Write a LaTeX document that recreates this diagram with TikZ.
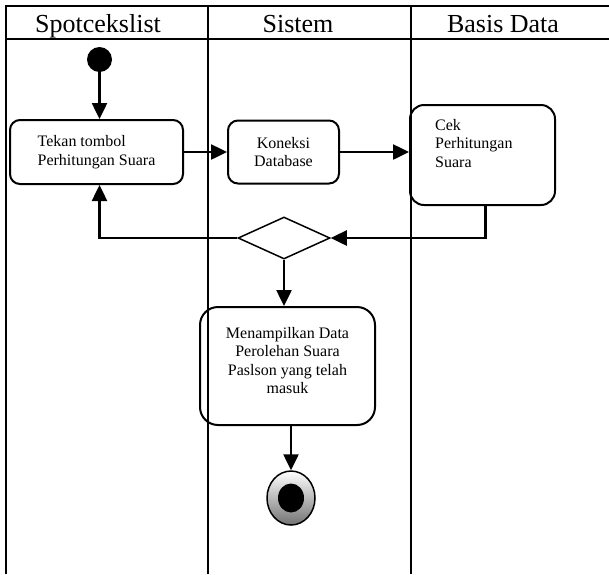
\documentclass[tikz,border=0pt]{standalone}
\usepackage{fontspec}
\setmainfont{Liberation Serif}
\usetikzlibrary{arrows.meta,shapes.geometric}

\tikzset{
  lane/.style={line width=2pt},
  act/.style={draw, line width=2pt, inner sep=0pt, font=\fontsize{16}{18.5}\selectfont},
  acttext/.style={inner sep=0pt, font=\fontsize{16}{18.5}\selectfont},
  flow/.style={line width=2.5pt, -{Triangle[length=16pt,width=15pt]}},
  head/.style={anchor=base, inner sep=0pt, font=\fontsize{26}{30}\selectfont},
}

\begin{document}
\begin{tikzpicture}[x=1pt,y=-1pt]
\useasboundingbox (0,0) rectangle (609,574);

% swimlane frame
\draw[lane] (5,5.5) -- (609,5.5);
\draw[lane] (5,39) -- (609,39);
\draw[lane] (6,5.5) -- (6,574);
\draw[lane] (207.5,5.5) -- (207.5,574);
\draw[lane] (410.5,5.5) -- (410.5,574);

% lane titles
\node[head] (h1) at (98,32) {Spotcekslist};
\node[head] (h2) at (298,32) {Sistem};
\node[head] (h3) at (503,32) {Basis Data};

% initial state
\node[circle, fill=black, minimum size=25pt, inner sep=0pt] (start) at (99.5,59.5) {};

% activities
\node[act, rounded corners=10pt, minimum width=173pt, minimum height=64pt, align=left]
  (tekan) at (96.5,152) {Tekan tombol\\Perhitungan Suara};
\node[act, rounded corners=10pt, minimum width=111pt, minimum height=63pt, align=center]
  (koneksi) at (283.5,152) {Koneksi\\Database};
\node[act, rounded corners=14pt, minimum width=145pt, minimum height=100pt]
  (cek) at (482.5,155) {};
\node[acttext, anchor=north west, align=left] (cektext) at (435,119) {Cek\\Perhitungan\\Suara};

% decision
\node[draw, diamond, line width=1.5pt, minimum width=92pt, minimum height=42pt, inner sep=0pt]
  (dec) at (284,238) {};

\node[act, rounded corners=18pt, minimum width=175pt, minimum height=118pt]
  (tampil) at (287.5,366) {};
\node[acttext, align=center] (tampiltext) at (287.5,360.5)
  {Menampilkan Data\\Perolehan Suara\\Paslson yang telah\\masuk};

% final state
\node[ellipse, draw, line width=1.5pt, top color=white, bottom color=black!55,
      minimum width=48pt, minimum height=54pt, inner sep=0pt] (final) at (291,498) {};
\node[ellipse, fill=black, minimum width=26pt, minimum height=29pt, inner sep=0pt]
  (finalcore) at (final.center) {};

% transitions
\draw[flow] (start.south) -- (start.south |- tekan.north);
\draw[flow] (tekan.east) -- (koneksi.west);
\draw[flow] (koneksi.east) -- (koneksi.east -| cek.west);
\coordinate (cekout) at ([xshift=3pt]cek.south);
\draw[flow] (cekout) |- (dec.east);
\draw[flow] (dec.west) -| (start.south |- tekan.south);
\draw[flow] (dec.south) -- (dec.south |- tampil.north);
\draw[flow] (final.north |- tampil.south) -- (final.north);
\end{tikzpicture}
\end{document}
